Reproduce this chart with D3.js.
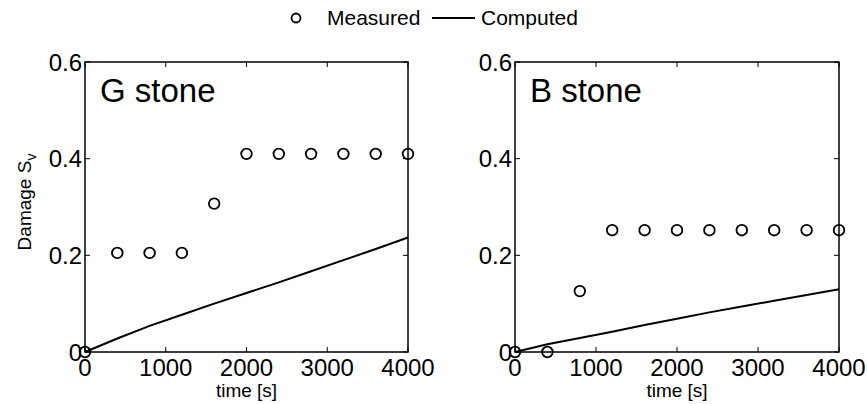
<!DOCTYPE html>
<html>
<head>
<meta charset="utf-8">
<script src="https://cdn.jsdelivr.net/npm/d3@7"></script>
<style>
  body { margin: 0; background: #fff; }
  text { font-family: "Liberation Sans", Arial, sans-serif; fill: #000; }
</style>
</head>
<body>
<script>
// measurement times [s]
var times = [0, 400, 800, 1200, 1600, 2000, 2400, 2800, 3200, 3600, 4000];

// G stone
var gMeasured = [0, 0.205, 0.205, 0.205, 0.307, 0.41, 0.41, 0.41, 0.41, 0.41, 0.41];
var gComputed = [0, 0.028, 0.054, 0.077, 0.1, 0.122, 0.144, 0.167, 0.19, 0.213, 0.237];

// B stone
var bMeasured = [0, 0, 0.126, 0.252, 0.252, 0.252, 0.252, 0.252, 0.252, 0.252, 0.252];
var bComputed = [0, 0.016, 0.029, 0.042, 0.056, 0.069, 0.082, 0.094, 0.106, 0.118, 0.13];

var xTicks = [0, 1000, 2000, 3000, 4000];
var yTicks = [0, 0.2, 0.4, 0.6];

var panels = [
  {title: "G stone", measured: gMeasured, computed: gComputed, left: 85, right: 408},
  {title: "B stone", measured: bMeasured, computed: bComputed, left: 515, right: 839}
];

var W = 867, H = 404, plotTop = 62, plotBottom = 352;

var svg = d3.select("body").append("svg")
    .attr("width", W)
    .attr("height", H);

panels.forEach(function(p) {
    var x = d3.scaleLinear().domain([0, 4000]).range([p.left, p.right]);
    var y = d3.scaleLinear().domain([0, 0.6]).range([plotBottom, plotTop]);
    var g = svg.append("g");

    // inward ticks on all four sides (matlab box style)
    var tl = 5;
    xTicks.forEach(function(t) {
        g.append("line").attr("x1", x(t)).attr("x2", x(t)).attr("y1", plotBottom).attr("y2", plotBottom - tl)
            .attr("stroke", "#000").attr("stroke-width", 1);
        g.append("line").attr("x1", x(t)).attr("x2", x(t)).attr("y1", plotTop).attr("y2", plotTop + tl)
            .attr("stroke", "#000").attr("stroke-width", 1);
        g.append("text").attr("x", x(t)).attr("y", plotBottom + 24)
            .attr("text-anchor", "middle").attr("font-size", 24).text(t);
    });
    yTicks.forEach(function(t) {
        g.append("line").attr("x1", p.left).attr("x2", p.left + tl).attr("y1", y(t)).attr("y2", y(t))
            .attr("stroke", "#000").attr("stroke-width", 1);
        g.append("line").attr("x1", p.right).attr("x2", p.right - tl).attr("y1", y(t)).attr("y2", y(t))
            .attr("stroke", "#000").attr("stroke-width", 1);
        g.append("text").attr("x", p.left - 3).attr("y", y(t)).attr("dy", "0.36em")
            .attr("text-anchor", "end").attr("font-size", 24).text(t);
    });

    // box
    g.append("rect").attr("x", p.left).attr("y", plotTop)
        .attr("width", p.right - p.left).attr("height", plotBottom - plotTop)
        .attr("fill", "none").attr("stroke", "#000").attr("stroke-width", 1.5);

    // computed line
    var line = d3.line().x(function(d, i) { return x(times[i]); }).y(function(d) { return y(d); });
    g.append("path").datum(p.computed).attr("d", line)
        .attr("fill", "none").attr("stroke", "#000").attr("stroke-width", 2);

    // measured markers
    g.selectAll("circle").data(p.measured).enter().append("circle")
        .attr("cx", function(d, i) { return x(times[i]); })
        .attr("cy", function(d) { return y(d); })
        .attr("r", 5.3)
        .attr("fill", "none").attr("stroke", "#000").attr("stroke-width", 1.8);

    g.append("text").attr("x", p.left + 15).attr("y", 102)
        .attr("font-size", 33).text(p.title);

    g.append("text").attr("x", (p.left + p.right) / 2).attr("y", 397)
        .attr("text-anchor", "middle").attr("font-size", 19).text("time [s]");
});

// y axis label
var yl = svg.append("text")
    .attr("transform", "translate(31,202) rotate(-90)")
    .attr("text-anchor", "middle").attr("font-size", 19);
yl.append("tspan").text("Damage S");
yl.append("tspan").attr("font-size", 14).attr("dy", 5).text("v");

// legend
var lg = svg.append("g");
lg.append("circle").attr("cx", 296).attr("cy", 18).attr("r", 4.5)
    .attr("fill", "none").attr("stroke", "#000").attr("stroke-width", 1.8);
lg.append("text").attr("x", 327).attr("y", 25).attr("font-size", 21).text("Measured");
lg.append("line").attr("x1", 432).attr("x2", 475).attr("y1", 18).attr("y2", 18)
    .attr("stroke", "#000").attr("stroke-width", 2);
lg.append("text").attr("x", 481).attr("y", 25).attr("font-size", 21).text("Computed");
</script>
</body>
</html>
